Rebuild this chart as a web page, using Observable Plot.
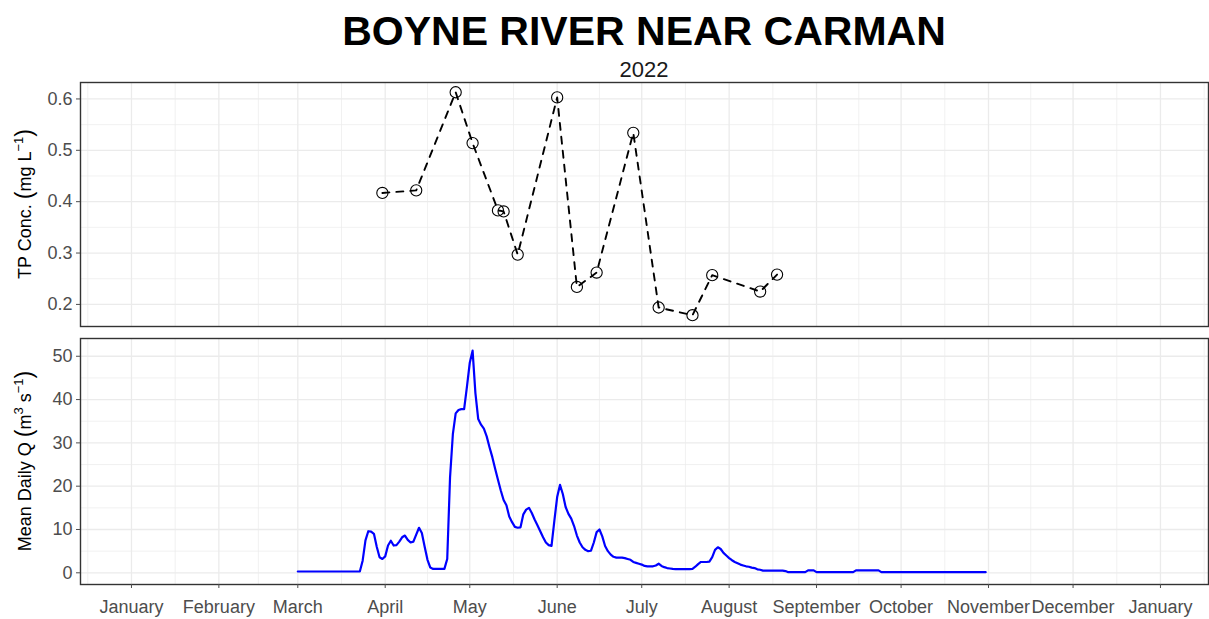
<!DOCTYPE html>
<html>
<head>
<meta charset="utf-8">
<script src="https://cdn.jsdelivr.net/npm/d3@7"></script>
<script src="https://cdn.jsdelivr.net/npm/@observablehq/plot@0.6"></script>
<style>
  html, body { margin: 0; padding: 0; background: #fff; }
  #wrap { position: relative; width: 1209px; height: 619px; font-family: "Liberation Sans", Arial, sans-serif; overflow: hidden; }
  #title { position: absolute; left: 80px; width: 1128px; top: 11px; text-align: center; font-size: 41px; line-height: 41px; font-weight: bold; color: #000; }
  #subtitle { position: absolute; left: 80px; width: 1128px; top: 59px; text-align: center; font-size: 22px; line-height: 22px; color: #1a1a1a; }
  #p1 { position: absolute; left: 0; top: 80px; }
  #p2 { position: absolute; left: 0; top: 332px; }
</style>
</head>
<body>
<div id="wrap">
  <div id="title">BOYNE RIVER NEAR CARMAN</div>
  <div id="subtitle">2022</div>
  <div id="p1"></div>
  <div id="p2"></div>
</div>
<script>
// ---------------- data ----------------
const tpDates = ["2022-03-31","2022-04-12","2022-04-26","2022-05-02","2022-05-11","2022-05-13","2022-05-18","2022-06-01",
                 "2022-06-08","2022-06-15","2022-06-28","2022-07-07","2022-07-19","2022-07-26","2022-08-12","2022-08-18"];
const tpValues = [0.417,0.422,0.613,0.514,0.383,0.381,0.297,0.603,0.234,0.262,0.534,0.194,0.179,0.257,0.225,0.258];

const flowStart = "2022-03-01";
const flowValues = [
  // March
  0.3,0.3,0.3,0.3,0.3,0.3,0.3,0.3,0.3,0.3,0.3,0.3,0.3,0.3,0.3,0.3,0.3,0.3,0.3,0.3,0.3,0.3,0.3,
  2.8,7.5,9.6,9.5,9.0,6.0,3.6,3.2,
  // April
  3.8,6.3,7.4,6.3,6.4,7.2,8.2,8.6,7.6,7.0,
  7.2,8.8,10.4,9.2,6.0,3.0,1.2,0.9,0.9,0.9,
  0.9,0.9,3.2,22.0,32.0,36.8,37.6,37.8,37.8,43.0,
  // May
  48.5,51.3,41.5,35.5,34.2,33.3,31.5,29.0,26.7,24.0,
  21.5,19.0,16.8,15.6,13.0,11.7,10.6,10.4,10.5,13.5,
  14.6,15.0,13.8,12.3,11.0,9.6,8.2,7.0,6.4,6.2,
  12.0,
  // June
  17.5,20.3,18.2,15.2,13.6,12.5,10.8,8.6,7.0,
  5.9,5.3,5.0,5.1,7.0,9.4,10.0,8.4,6.2,5.0,
  4.2,3.7,3.5,3.5,3.5,3.4,3.2,3.0,2.5,2.3,
  2.1,
  // July
  1.9,1.6,1.5,1.5,1.5,1.7,2.1,1.6,1.3,
  1.1,1.0,0.9,0.85,0.85,0.85,0.85,0.85,0.85,0.9,
  1.4,2.0,2.5,2.5,2.5,2.6,3.6,5.3,5.9,5.5,
  4.6,4.0,
  // August
  3.4,2.9,2.5,2.2,1.9,1.7,1.5,1.4,
  1.2,1.1,0.8,0.7,0.5,0.5,0.5,0.5,0.5,0.5,
  0.5,0.5,0.4,0.15,0.15,0.15,0.15,0.15,0.15,0.15,
  0.55,0.55,0.55,
  // September
  0.15,0.15,0.15,0.15,0.15,0.15,0.15,0.15,0.15,0.15,0.15,0.15,0.15,0.15,
  0.55,0.55,0.55,0.55,0.55,0.55,0.55,0.55,0.55,
  0.15,0.15,0.15,0.15,0.15,0.15,0.15,
  // October
  0.15,0.15,0.15,0.15,0.15,0.15,0.15,0.15,0.15,0.15,0.15,0.15,0.15,0.15,0.15,0.15,
  0.15,0.15,0.15,0.15,0.15,0.15,0.15,0.15,0.15,0.15,0.15,0.15,0.15,0.15,0.15
];

const tpTicks = [0.2, 0.3, 0.4, 0.5, 0.6];
const tpMinorTicks = [0.25, 0.35, 0.45, 0.55];
const qTicks = [0, 10, 20, 30, 40, 50];
const qMinorTicks = [5, 15, 25, 35, 45];

// ---------------- build ----------------
const parse = d3.utcParse("%Y-%m-%d");
const tp = tpDates.map((d, i) => ({date: parse(d), value: tpValues[i]}));
const start = parse(flowStart);
const flow = flowValues.map((v, i) => ({date: d3.utcDay.offset(start, i), value: v}));

const xDomain = [new Date(Date.UTC(2021, 11, 13, 22)), new Date(Date.UTC(2023, 0, 18, 1))];
const months = d3.utcMonth.range(new Date(Date.UTC(2022, 0, 1)), new Date(Date.UTC(2023, 0, 2)));
const ext = [new Date(Date.UTC(2021, 11, 1)), ...months, new Date(Date.UTC(2023, 1, 1))];
const minorX = d3.pairs(ext).map(([a, b]) => new Date((+a + +b) / 2)).filter(d => d > xDomain[0] && d < xDomain[1]);

const font = "'Liberation Sans', Arial, sans-serif";
const gridCol = "#ebebeb";

const p1 = Plot.plot({
  width: 1209, height: 252,
  marginLeft: 80, marginRight: 1, marginTop: 2, marginBottom: 6,
  x: {type: "utc", domain: xDomain, axis: null},
  y: {domain: [0.157, 0.632], axis: null},
  style: {fontFamily: font, background: "white", overflow: "visible"},
  marks: [
    Plot.ruleX(minorX, {stroke: gridCol, strokeWidth: 0.7}),
    Plot.ruleX(months, {stroke: gridCol, strokeWidth: 1.3}),
    Plot.ruleY(tpMinorTicks, {stroke: gridCol, strokeWidth: 0.7}),
    Plot.ruleY(tpTicks, {stroke: gridCol, strokeWidth: 1.3}),
    Plot.line(tp, {x: "date", y: "value", stroke: "black", strokeWidth: 1.9, strokeDasharray: "7,7"}),
    Plot.dot(tp, {x: "date", y: "value", r: 5.6, stroke: "black", strokeWidth: 1.1, fill: "none"}),
    Plot.frame({stroke: "#333", strokeWidth: 1.4}),
    Plot.axisY({ticks: tpTicks, tickFormat: d3.format(".1f"), tickSize: 4, tickPadding: 4, fontSize: 18, label: null, color: "#4d4d4d"})
  ]
});

const p2 = Plot.plot({
  width: 1209, height: 287,
  marginLeft: 80, marginRight: 1, marginTop: 6, marginBottom: 35,
  x: {type: "utc", domain: xDomain, axis: null},
  y: {domain: [-2.7, 54.1], axis: null},
  style: {fontFamily: font, background: "white", overflow: "visible"},
  marks: [
    Plot.ruleX(minorX, {stroke: gridCol, strokeWidth: 0.7}),
    Plot.ruleX(months, {stroke: gridCol, strokeWidth: 1.3}),
    Plot.ruleY(qMinorTicks, {stroke: gridCol, strokeWidth: 0.7}),
    Plot.ruleY(qTicks, {stroke: gridCol, strokeWidth: 1.3}),
    Plot.line(flow, {x: "date", y: "value", stroke: "#0000ff", strokeWidth: 2.2}),
    Plot.frame({stroke: "#333", strokeWidth: 1.4}),
    Plot.axisY({ticks: qTicks, tickFormat: d3.format("d"), tickSize: 4, tickPadding: 4, fontSize: 18, label: null, color: "#4d4d4d"}),
    Plot.axisX({ticks: months, tickFormat: d3.utcFormat("%B"), tickSize: 4, tickPadding: 12, fontSize: 18, label: null, color: "#4d4d4d"})
  ]
});

document.getElementById("p1").appendChild(p1);
document.getElementById("p2").appendChild(p2);

function yTitle(svg, cx, cy, parts) {
  const t = d3.select(svg).append("text")
    .attr("transform", `translate(${cx},${cy}) rotate(-90)`)
    .attr("text-anchor", "middle")
    .attr("font-family", font)
    .attr("font-size", 18)
    .attr("fill", "#000");
  parts.forEach(p => {
    const s = t.append("tspan").text(p.t);
    if (p.size) s.attr("font-size", p.size);
    if (p.dy) s.attr("dy", p.dy);
  });
}
yTitle(p1, 31, 124, [
  {t: "TP Conc. "},
  {t: "(", size: 23, dy: 1},
  {t: "mg L", dy: -1},
  {t: "\u22121", size: 13, dy: -8},
  {t: ")", size: 23, dy: 9}
]);
yTitle(p2, 31, 129, [
  {t: "Mean Daily Q "},
  {t: "(", size: 23, dy: 1},
  {t: "m", dy: -1},
  {t: "3", size: 13, dy: -8},
  {t: " s", dy: 8},
  {t: "\u22121", size: 13, dy: -8},
  {t: ")", size: 23, dy: 9}
]);
</script>
</body>
</html>
